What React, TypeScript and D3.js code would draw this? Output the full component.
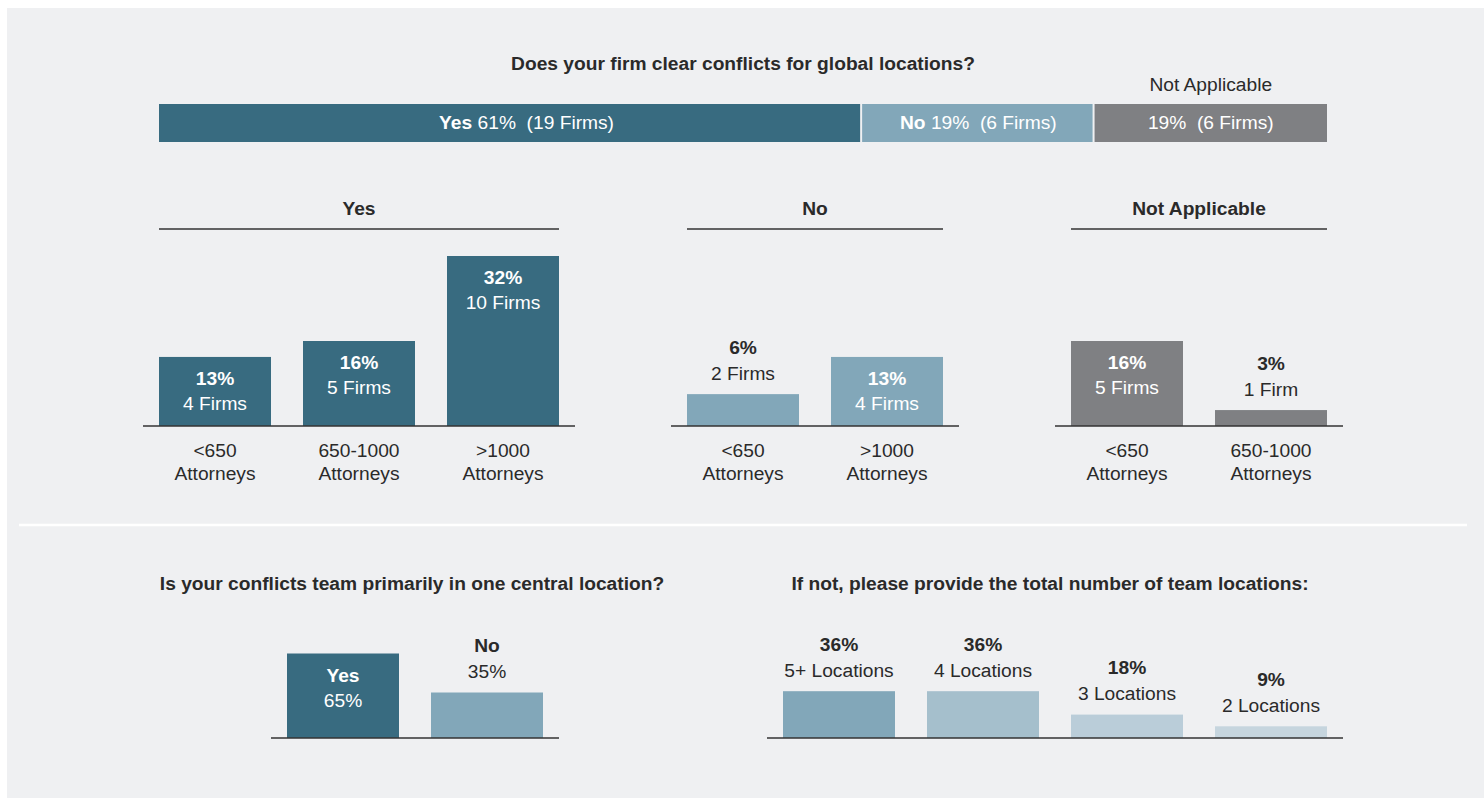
import * as React from 'react';
import * as d3 from 'd3';

// top stacked bar
const topCategories = ['Yes', 'No', 'Not Applicable'];
const topPercents = [61, 19, 19];
const topFirms = [19, 6, 6];
// drawn segment widths as they appear in the picture
const topShares = [60.2, 19.9, 19.9];

// breakdown by firm size
const yesSizes = ['<650', '650-1000', '>1000'];
const yesPercents = [13, 16, 32];
const yesFirms = [4, 5, 10];

const noSizes = ['<650', '>1000'];
const noPercents = [6, 13];
const noFirms = [2, 4];

const naSizes = ['<650', '650-1000'];
const naPercents = [16, 3];
const naFirms = [5, 1];

// bottom charts
const centralCats = ['Yes', 'No'];
const centralPercents = [65, 35];

const locationCats = ['5+ Locations', '4 Locations', '3 Locations', '2 Locations'];
const locationPercents = [36, 36, 18, 9];

const W = 1484;
const H = 798;
const FONT = '"Liberation Sans", Arial, Helvetica, sans-serif';
const FS = 19.2;
const DARK = '#386b80';
const LIGHT = '#82a7b9';
const GRAY = '#7f8083';
const TEXT = '#2a2a2a';
const locColors = ['#82a7b9', '#a5bfcc', '#bacdd9', '#c6d5de'];

const firmLabel = (n: number) => (n === 1 ? '1 Firm' : `${n} Firms`);

type BarDatum = { cat: string; line1: string; line2: string; value: number; color: string };

function BarGroup({ data, x0, x1, y, base, ticks, title }: {
  data: BarDatum[]; x0: number; x1: number; y: d3.ScaleLinear<number, number>; base: number;
  ticks: boolean; title?: string;
}) {
  const x = d3.scaleBand<string>().domain(data.map(d => d.cat)).range([x0, x1]).paddingInner(32 / 144);
  const bw = x.bandwidth();
  return (
    <g>
      {title && (
        <g>
          <text x={(x0 + x1) / 2} y={214.5} textAnchor="middle" fontWeight="bold" fill={TEXT}>{title}</text>
          <line x1={x0} x2={x1} y1={229} y2={229} stroke="#333" strokeWidth={1.5} />
        </g>
      )}
      {data.map(d => {
        const top = y(d.value);
        const h = base - top;
        const inside = h > 55;
        const cx = (x(d.cat) ?? 0) + bw / 2;
        const col = inside ? '#ffffff' : TEXT;
        const y1 = inside ? top + 28 : top - 40.5;
        const y2 = inside ? top + 53 : top - 14.5;
        return (
          <g key={d.cat}>
            <rect x={x(d.cat)} y={top} width={bw} height={h} fill={d.color} />
            <text x={cx} y={y1} textAnchor="middle" fontWeight="bold" fill={col}>{d.line1}</text>
            <text x={cx} y={y2} textAnchor="middle" fill={col}>{d.line2}</text>
            {ticks && (
              <g>
                <text x={cx} y={base + 30.5} textAnchor="middle" fill={TEXT}>{d.cat}</text>
                <text x={cx} y={base + 53.5} textAnchor="middle" fill={TEXT}>Attorneys</text>
              </g>
            )}
          </g>
        );
      })}
      <line x1={x0 - 16} x2={x1 + 16} y1={base} y2={base} stroke="#333" strokeWidth={1.5} />
    </g>
  );
}

export default function App() {
  // top stacked bar
  const total = d3.sum(topShares);
  const xs = d3.scaleLinear().domain([0, total]).range([159, 1327]);
  const starts = d3.cumsum(topShares).map((c, i) => c - topShares[i]);
  const segColors = [DARK, LIGHT, GRAY];

  const topBase = 426;
  const yTop = d3.scaleLinear().domain([0, 32]).range([topBase, 256]);
  const botBase = 738;
  const yBot = d3.scaleLinear().domain([0, 100]).range([botBase, 608]);

  const yesData = yesSizes.map((c, i) => ({ cat: c, line1: `${yesPercents[i]}%`, line2: firmLabel(yesFirms[i]), value: yesPercents[i], color: DARK }));
  const noData = noSizes.map((c, i) => ({ cat: c, line1: `${noPercents[i]}%`, line2: firmLabel(noFirms[i]), value: noPercents[i], color: LIGHT }));
  const naData = naSizes.map((c, i) => ({ cat: c, line1: `${naPercents[i]}%`, line2: firmLabel(naFirms[i]), value: naPercents[i], color: GRAY }));
  const centralData = centralCats.map((c, i) => ({ cat: c, line1: c, line2: `${centralPercents[i]}%`, value: centralPercents[i], color: [DARK, LIGHT][i] }));
  const locData = locationCats.map((c, i) => ({ cat: c, line1: `${locationPercents[i]}%`, line2: c, value: locationPercents[i], color: locColors[i] }));

  return (
    <svg width={W} height={H} style={{ position: 'absolute', left: 0, top: 0, display: 'block' }}
      fontFamily={FONT} fontSize={FS}>
      <rect width={W} height={H} fill="#ffffff" />
      <rect x={7} y={8} width={W - 7} height={H - 8} fill="#eff0f2" />

      <text x={743} y={69.5} textAnchor="middle" fontWeight="bold" fill={TEXT}>
        Does your firm clear conflicts for global locations?
      </text>
      {topCategories.map((c, i) => {
        const a = xs(starts[i]);
        const b = xs(starts[i] + topShares[i]);
        const w = b - a - (i < topCategories.length - 1 ? 2 : 0);
        const tx = i === 0 ? (a + b) / 2 + 16 : (a + b) / 2;
        return (
          <g key={c}>
            <rect x={a} y={104} width={w} height={38} fill={segColors[i]} />
            {c === 'Not Applicable' ? (
              <g>
                <text x={tx} y={91} textAnchor="middle" fill={TEXT}>{c}</text>
                <text x={tx} y={128.5} textAnchor="middle" fill="#fff" style={{ whiteSpace: 'pre' }}>
                  {`${topPercents[i]}%  (${topFirms[i]} Firms)`}
                </text>
              </g>
            ) : (
              <text x={tx} y={128.5} textAnchor="middle" fill="#fff" style={{ whiteSpace: 'pre' }}>
                <tspan fontWeight="bold">{c}</tspan>
                <tspan>{` ${topPercents[i]}%  (${topFirms[i]} Firms)`}</tspan>
              </text>
            )}
          </g>
        );
      })}

      <BarGroup data={yesData} x0={159} x1={559} y={yTop} base={topBase} ticks title="Yes" />
      <BarGroup data={noData} x0={687} x1={943} y={yTop} base={topBase} ticks title="No" />
      <BarGroup data={naData} x0={1071} x1={1327} y={yTop} base={topBase} ticks title="Not Applicable" />

      <line x1={19} x2={1467} y1={525} y2={525} stroke="#ffffff" strokeWidth={2.5} />

      <text x={412} y={589.5} textAnchor="middle" fontWeight="bold" fill={TEXT}>
        Is your conflicts team primarily in one central location?
      </text>
      <text x={1050} y={589.5} textAnchor="middle" fontWeight="bold" fill={TEXT}>
        If not, please provide the total number of team locations:
      </text>
      <BarGroup data={centralData} x0={287} x1={543} y={yBot} base={botBase} ticks={false} />
      <BarGroup data={locData} x0={783} x1={1327} y={yBot} base={botBase} ticks={false} />
    </svg>
  );
}
